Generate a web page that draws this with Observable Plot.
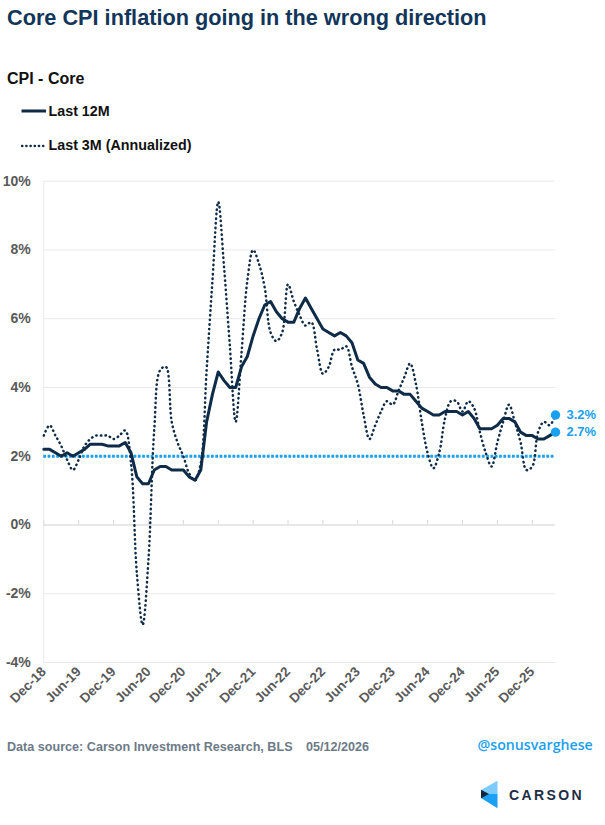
<!DOCTYPE html>
<html><head><meta charset="utf-8">
<script src="https://cdn.jsdelivr.net/npm/d3@7"></script>
<script src="https://cdn.jsdelivr.net/npm/@observablehq/plot@0.6"></script>
<style>
body{margin:0;background:#fff;font-family:"Liberation Sans",Arial,sans-serif;}
#page{position:relative;width:605px;height:825px;overflow:hidden;background:#fff;}
.abs{position:absolute;white-space:nowrap;line-height:1;}
#chart{position:absolute;left:0;top:0;}
</style></head><body><div id="page">
<div id="chart"></div>
<div class="abs" style="left:7px;top:6.6px;font-size:21.7px;font-weight:bold;color:#12355a;">Core CPI inflation going in the wrong direction</div>
<div class="abs" style="left:7px;top:70.5px;font-size:16px;font-weight:bold;color:#111;">CPI - Core</div>
<svg class="abs" style="left:0;top:0;" width="60" height="160">
  <line x1="21.5" x2="46" y1="111" y2="111" stroke="#0e2b47" stroke-width="3"/>
  <line x1="22" x2="45" y1="146" y2="146" stroke="#0e2b47" stroke-width="2.3" stroke-dasharray="0.4,3.8" stroke-linecap="round"/>
</svg>
<div class="abs" style="left:48.5px;top:104px;font-size:14.3px;font-weight:bold;color:#111;">Last 12M</div>
<div class="abs" style="left:48.5px;top:138px;font-size:14.3px;font-weight:bold;color:#111;">Last 3M (Annualized)</div>
<div class="abs" style="left:7px;top:741px;font-size:12.6px;font-weight:bold;color:#6c7a88;">Data source: Carson Investment Research, BLS</div>
<div class="abs" style="left:306px;top:741px;font-size:12.6px;font-weight:bold;color:#6c7a88;">05/12/2026</div>
<div class="abs" style="left:477.5px;top:738px;font-size:14.2px;font-weight:600;font-family:'Open Sans',sans-serif;color:#1a9ff0;">@sonusvarghese</div>
<svg class="abs" style="left:0;top:0;" width="605" height="825">
  <polygon points="497.5,780.7 481,790 481,794 497.5,794" fill="#7ccbff"/>
  <polygon points="481,794 497.5,794 497.5,808.3 481,798" fill="#1aa0f4"/>
  <polygon points="481,789.8 489,794 481,798.2" fill="#13263d"/>
</svg>
<div class="abs" style="left:509px;top:787.5px;font-size:14px;font-weight:bold;letter-spacing:2.4px;color:#1c2e45;">CARSON</div>
</div>
<script>
// ---- data (monthly, Dec-18 .. Apr-26) ----
const tickLabels = ["Dec-18","Jun-19","Dec-19","Jun-20","Dec-20","Jun-21","Dec-21","Jun-22","Dec-22","Jun-23","Dec-23","Jun-24","Dec-24","Jun-25","Dec-25"];
const last12M = [
  2.2,
  2.2,2.1,2.0,2.1,2.0,2.1,2.2,2.35,2.35,2.35,2.3,2.3,
  2.3,2.4,2.1,1.4,1.2,1.2,1.6,1.7,1.7,1.6,1.6,1.6,
  1.4,1.3,1.6,3.0,3.8,4.45,4.2,4.0,4.0,4.6,4.9,5.5,
  6.0,6.4,6.5,6.2,6.0,5.9,5.9,6.3,6.6,6.3,6.0,5.7,
  5.6,5.5,5.6,5.5,5.3,4.8,4.7,4.3,4.1,4.0,4.0,3.9,
  3.9,3.8,3.8,3.6,3.4,3.3,3.2,3.2,3.3,3.3,3.3,3.2,
  3.3,3.1,2.8,2.8,2.8,2.9,3.1,3.1,3.0,2.7,2.6,2.6,
  2.5,2.5,2.6,2.7
];
const last3M = [
  2.6,
  2.9,2.6,2.3,1.9,1.6,1.9,2.3,2.5,2.6,2.6,2.6,2.5,
  2.6,2.75,1.8,-1.4,-2.9,-1.0,2.8,4.5,4.6,3.0,2.4,2.0,
  1.5,1.3,1.8,4.5,7.1,9.4,7.5,5.2,3.0,5.0,7.1,8.0,
  7.6,6.9,5.6,5.35,5.6,7.0,6.5,6.1,5.8,5.9,5.1,4.4,
  4.6,5.1,5.1,5.2,4.6,4.1,3.2,2.5,2.9,3.3,3.6,3.5,
  3.9,4.3,4.7,4.1,3.0,2.1,1.65,2.1,3.1,3.6,3.6,3.3,
  3.6,3.4,2.7,2.1,1.7,2.4,3.0,3.5,3.0,2.4,1.6,1.7,
  2.7,3.0,2.9,3.2
];
const targetRate = 2;
const yTicks = [-4,-2,0,2,4,6,8,10];
const endLabels = ["3.2%","2.7%"];

const navy = "#0e2b47", blue = "#1aa0f0";
const rows = last12M.map((v, i) => ({i, m12: v, m3: last3M[i]}));
const tickIdx = tickLabels.map((d, k) => k * 6);
const n = rows.length - 1;
const ends = [
  {i: n, v: last3M[n], t: endLabels[0]},
  {i: n, v: last12M[n], t: endLabels[1]}
];

const chart = Plot.plot({
  width: 605, height: 725,
  marginLeft: 43.3, marginRight: 50, marginTop: 180.7, marginBottom: 63,
  x: {domain: [0, n]},
  y: {domain: [-4, 10]},
  style: {fontFamily: "'Liberation Sans', Arial, sans-serif", color: "#595959", background: "transparent", overflow: "visible"},
  marks: [
    Plot.ruleY(yTicks, {stroke: "#e9e9e9", strokeWidth: 1}),
    Plot.ruleX([0], {stroke: "#ececec"}),
    Plot.ruleY([0], {stroke: "#d9d9d9", strokeWidth: 1.2}),
    Plot.ruleX(tickIdx, {y1: 0, y2: 0.13, stroke: "#d9d9d9"}),
    Plot.ruleY([targetRate], {stroke: blue, strokeWidth: 3, strokeDasharray: "2.7,1.6"}),
    Plot.line(rows, {x: "i", y: "m3", stroke: navy, strokeWidth: 2.5, strokeDasharray: "0.4,4.2", strokeLinecap: "round", curve: "catmull-rom"}),
    Plot.line(rows, {x: "i", y: "m12", stroke: navy, strokeWidth: 3, strokeLinejoin: "round"}),
    Plot.dot(ends, {x: "i", y: "v", r: 4.7, fill: blue}),
    Plot.text(ends, {x: "i", y: "v", text: "t", dx: 11, textAnchor: "start", fill: blue, fontWeight: "bold", fontSize: 13}),
    Plot.axisY(yTicks, {tickFormat: d => `${d}%`, tickSize: 0, tickPadding: 13, fontSize: 14, fontWeight: "bold", label: null}),
    Plot.axisX(tickIdx, {tickFormat: d => tickLabels[tickIdx.indexOf(d)], tickRotate: -45, tickSize: 0, tickPadding: 7, fontSize: 13.5, fontWeight: "bold", label: null})
  ]
});
document.getElementById("chart").appendChild(chart);
</script>
</body></html>
